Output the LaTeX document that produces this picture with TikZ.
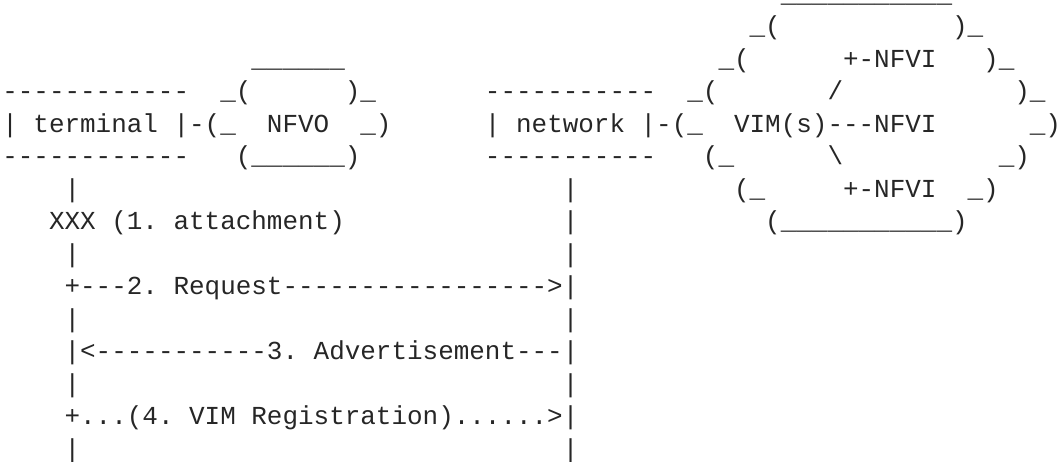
\documentclass[tikz,border=0pt]{standalone}
\usepackage{fontspec}
\setmonofont{Liberation Mono}
\tikzset{asciifrag/.style={anchor=base west,inner sep=0pt,outer sep=0pt,font=\fontsize{25.95}{30}\selectfont\ttfamily,text=black!85}}
\newcommand{\cw}[4]{\node[asciifrag] (#1) at ({2.3+15.57*(#2)},{-(132.2+32.5*((#3)-4))}) {\detokenize{#4}};}
\begin{document}
\begin{tikzpicture}[x=1pt,y=1pt]
\useasboundingbox (0,0) rectangle (1061,-462);
% top rows of the right cloud
\cw{a0}{50}{0}{___________}
\cw{a1}{48}{1}{_(}
\cw{a2}{61}{1}{)_}
\cw{a3}{46}{2}{_(}
\cw{a4}{54}{2}{+-NFVI}
\cw{a5}{63}{2}{)_}
% NFVO cloud top
\cw{b0}{16}{2}{______}
% row 3
\cw{c0}{0}{3}{------------}
\cw{c1}{14}{3}{_(}
\cw{c2}{22}{3}{)_}
\cw{c3}{31}{3}{-----------}
\cw{c4}{44}{3}{_(}
\cw{c5}{53}{3}{/}
\cw{c6}{65}{3}{)_}
% row 4
\cw{d0}{0}{4}{| terminal |-(_}
\cw{d1}{17}{4}{NFVO}
\cw{d2}{23}{4}{_)}
\cw{d3}{31}{4}{| network |-(_}
\cw{d4}{47}{4}{VIM(s)---NFVI}
\cw{d5}{66}{4}{_)}
% row 5
\cw{e0}{0}{5}{------------}
\cw{e1}{15}{5}{(______)}
\cw{e2}{31}{5}{-----------}
\cw{e3}{45}{5}{(_}
\node[asciifrag] (e4) at ({2.3+15.57*53},{-(132.2+32.5)}) {\textbackslash};
\cw{e5}{64}{5}{_)}
% row 6
\cw{f0}{4}{6}{|}
\cw{f1}{36}{6}{|}
\cw{f2}{47}{6}{(_}
\cw{f3}{54}{6}{+-NFVI}
\cw{f4}{62}{6}{_)}
% row 7
\cw{g0}{3}{7}{XXX (1. attachment)}
\cw{g1}{36}{7}{|}
\cw{g2}{49}{7}{(___________)}
% rows 8 to 14
\cw{h0}{4}{8}{|}
\cw{h1}{36}{8}{|}
\cw{i0}{4}{9}{+---2. Request----------------->|}
\cw{j0}{4}{10}{|}
\cw{j1}{36}{10}{|}
\cw{k0}{4}{11}{|<-----------3. Advertisement---|}
\cw{l0}{4}{12}{|}
\cw{l1}{36}{12}{|}
\cw{m0}{4}{13}{+...(4. VIM Registration)......>|}
\cw{n0}{4}{14}{|}
\cw{n1}{36}{14}{|}
\end{tikzpicture}
\end{document}
